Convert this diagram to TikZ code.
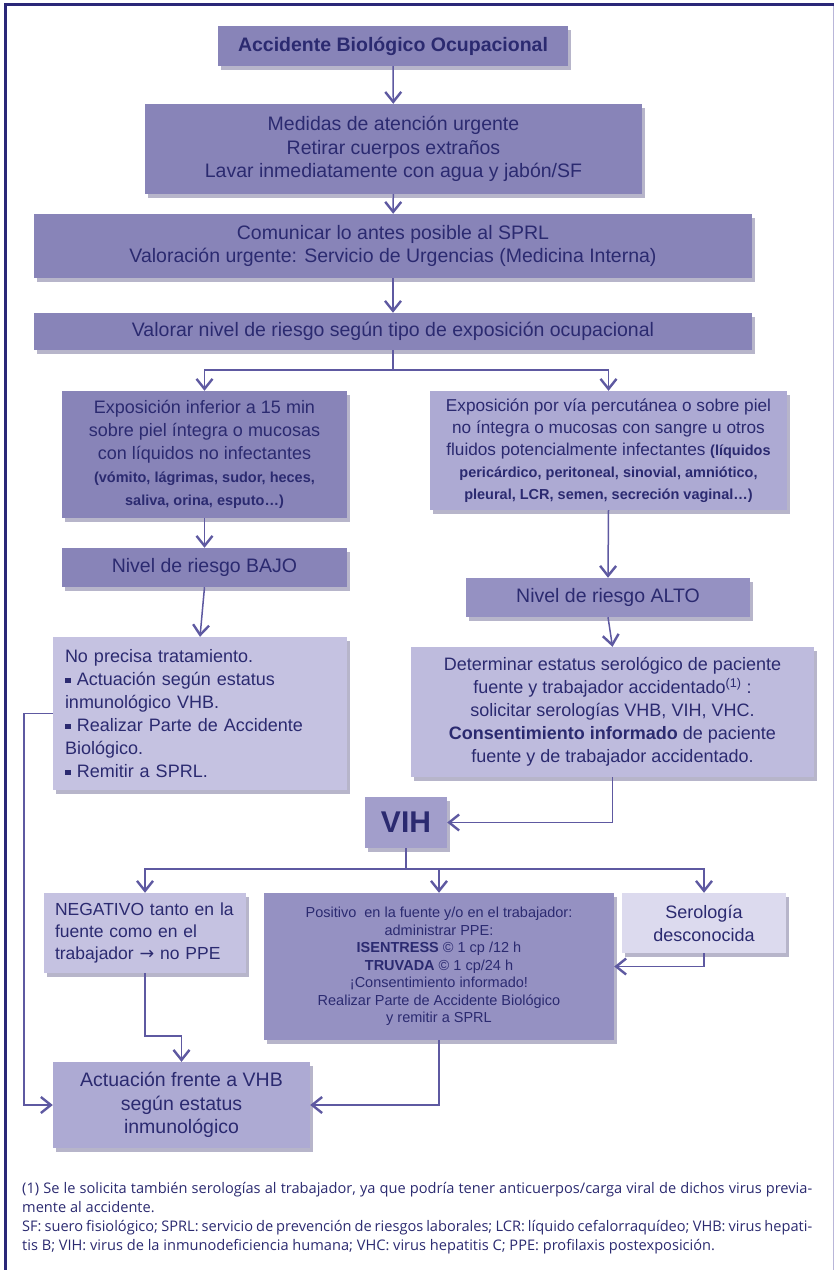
\documentclass[tikz,border=0pt]{standalone}
\usepackage{fontspec}
\setmainfont{Liberation Sans}
\newfontfamily\footfont{Open Sans}
\newfontfamily\symfont{DejaVu Sans}
\usepackage{xcolor}
\definecolor{ink}{HTML}{2B2A70}
\definecolor{frame}{HTML}{2A2878}
\definecolor{edge}{HTML}{B9B6D9}
\definecolor{wire}{HTML}{5E59A1}
\definecolor{lilac}{HTML}{8884B8}
\definecolor{lilacm}{HTML}{9591C2}
\definecolor{lilacv}{HTML}{A29ECB}
\definecolor{lilacl}{HTML}{ADAAD3}
\definecolor{lilacp}{HTML}{BEBBDD}
\definecolor{lilacpp}{HTML}{C5C2E1}
\definecolor{lilacw}{HTML}{DCDAEE}
\definecolor{shade}{HTML}{6F6B96}
\usepackage{tikz}
\usetikzlibrary{positioning,arrows.meta,shadows}
\newcommand{\fbig}{\fontsize{19.5}{23.5}\selectfont}
\newcommand{\fmid}{\fontsize{18}{23}\selectfont}
\newcommand{\fsml}{\fontsize{14.5}{20.5}\selectfont\bfseries}
\newcommand{\fpos}{\fontsize{14.5}{17.5}\selectfont}
\newcommand{\ffoot}{\footfont\fontsize{14.6}{19}\selectfont}
\newcommand{\sq}{\rule[0.12em]{0.32em}{0.32em}}
\tikzset{
  >={Straight Barb[length=10pt,width=16pt,line width=2.4pt]},
  box/.style={fill=lilac,text=ink,align=center,inner sep=2pt,font=\fbig,
    drop shadow={shadow xshift=3pt,shadow yshift=-4pt,fill=shade,opacity=0.5}},
  boxm/.style={box,fill=lilacm},
  boxl/.style={box,fill=lilacl},
  boxp/.style={box,fill=lilacp},
  boxpp/.style={box,fill=lilacpp},
  flow/.style={->,draw=wire,line width=1.5pt},
}

\begin{document}
\begin{tikzpicture}[x=1pt,y=1pt]
  \useasboundingbox (0,0) rectangle (834,-1270);
  % frame
  \draw[edge,line width=1pt] (833,-4) -- (833,-1270);
  \draw[frame,line width=2.5pt] (5.5,-1270) -- (5.5,-4.5) -- (834,-4.5);
  % first steps
  \node[box,font=\fbig\bfseries,minimum width=350pt,minimum height=40pt] (acc) at (393,-46) {Accidente Biológico Ocupacional};
  \node[box,minimum width=497pt,minimum height=90pt] (med) at (393.5,-149) {Medidas de atención urgente\\Retirar cuerpos extraños\\Lavar inmediatamente con agua y jabón/SF};
  \node[box,minimum width=718pt,minimum height=64pt] (com) at (393,-246) {Comunicar lo antes posible al SPRL\\Valoración urgente: Servicio de Urgencias (Medicina Interna)};
  \node[box,minimum width=718pt,minimum height=37pt] (val) at (393,-331.5) {Valorar nivel de riesgo según tipo de exposición ocupacional};
  % exposure
  \node[box,font=\fmid,minimum width=285pt,minimum height=127pt] (expb) at (204.5,-454.5) {Exposición inferior a 15 min\\sobre piel íntegra o mucosas\\con líquidos no infectantes\\\fsml (vómito, lágrimas, sudor, heces,\\\fsml saliva, orina, esputo\dots)};
  \node[boxl,font=\fontsize{17.2}{22}\selectfont,minimum width=357pt,minimum height=119pt] (expa) at (608.5,-450.5) {Exposición por vía percutánea o sobre piel\\no íntegra o mucosas con sangre u otros\\fluidos potencialmente infectantes {\fsml(líquidos}\\\fsml pericárdico, peritoneal, sinovial, amniótico,\\\fsml pleural, LCR, semen, secreción vaginal\dots)};
  \node[box,minimum width=285pt,minimum height=39pt] (bajo) at (204.5,-567.5) {Nivel de riesgo BAJO};
  \node[boxm,minimum width=284pt,minimum height=39pt] (alto) at (608,-597.5) {Nivel de riesgo ALTO};
  \node[boxpp,font=\fmid,align=left,text width=270pt,minimum width=294pt,minimum height=153pt] (noprec) at (200,-713.5) {No precisa tratamiento.\\\sq\ Actuación según estatus\\inmunológico VHB.\\\sq\ Realizar Parte de Accidente\\Biológico.\\\sq\ Remitir a SPRL.};
  \node[boxp,font=\fmid,minimum width=403pt,minimum height=130pt] (deter) at (612.5,-712) {Determinar estatus serológico de paciente\\fuente y trabajador accidentado\textsuperscript{(1)} :\\solicitar serologías VHB, VIH, VHC.\\\textbf{Consentimiento informado} de paciente\\fuente y de trabajador accidentado.};
  % VIH
  \node[box,fill=lilacv,font=\fontsize{30}{34}\selectfont\bfseries,minimum width=82pt,minimum height=51pt] (vih) at (406,-822.5) {VIH};
  \node[boxpp,font=\fontsize{17.5}{22}\selectfont,align=left,text width=180pt,minimum width=202pt,minimum height=80pt] (neg) at (145,-933) {NEGATIVO tanto en la\\fuente como en el\\trabajador {\symfont →} no PPE};
  \node[boxm,font=\fpos,minimum width=350pt,minimum height=147pt] (pos) at (439,-966.5) {Positivo\ \ en la fuente y/o en el trabajador:\\administrar PPE:\\\textbf{ISENTRESS} © 1 cp /12 h\\\textbf{TRUVADA} © 1 cp/24 h\\¡Consentimiento informado!\\Realizar Parte de Accidente Biológico\\y remitir a SPRL};
  \node[box,fill=lilacw,font=\fmid,minimum width=164pt,minimum height=60pt] (sero) at (704,-923) {Serología\\desconocida};
  \node[boxl,minimum width=257pt,minimum height=86pt] (actu) at (181.5,-1105) {Actuación frente a VHB\\según estatus\\inmunológico};
  % connectors
  \draw[flow] (acc) -- (med);
  \draw[flow] (med) -- (com);
  \draw[flow] (com) -- (val);
  \draw[flow] (val.south) -- ++(0,-20) -| (expb.north);
  \draw[flow] (val.south) -- ++(0,-20) -| (expa.north);
  \draw[flow] (expb) -- (bajo);
  \draw[flow] (expa.south) -- (alto.north);
  \draw[flow] (bajo.south) -- (noprec.north);
  \draw[flow] (alto.south) -- (deter.north);
  \draw[flow] (deter.south) |- (vih.east);
  \foreach \t in {neg,pos,sero}
    \draw[flow] (vih.south) -- ++(0,-21) -| (\t.north);
  \draw[flow] (sero.south) |- (pos.east);
  \draw[flow] (neg.south) -- ++(0,-63) -| (actu.north);
  \draw[flow] (pos.south) |- (actu.east);
  \draw[flow] (noprec.west) -- ++(-29,0) |- (actu.west);
  % footnote
  \node[anchor=north west,text width=790pt,align=justify,font=\ffoot,text=ink,inner sep=0pt] (foot) at (22,-1182) {(1) Se le solicita también serologías al trabajador, ya que podría tener anticuerpos/carga viral de dichos virus previa-\linebreak mente al accidente.\\SF: suero fisiológico; SPRL: servicio de prevención de riesgos laborales; LCR: líquido cefalorraquídeo; VHB: virus hepati-\linebreak tis B; VIH: virus de la inmunodeficiencia humana; VHC: virus hepatitis C; PPE: profilaxis postexposición.};
\end{tikzpicture}
\end{document}
